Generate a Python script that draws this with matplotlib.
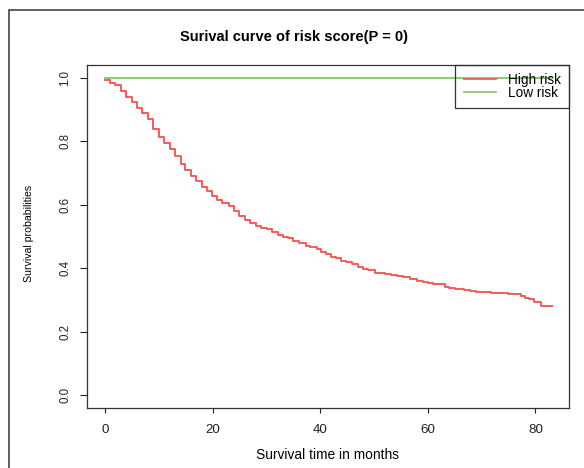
import matplotlib
matplotlib.use("Agg")
import matplotlib.pyplot as plt
from matplotlib.patches import Rectangle
from matplotlib.lines import Line2D

plt.rcParams['font.family'] = ['Liberation Sans', 'DejaVu Sans']

# step points of the high-risk Kaplan-Meier curve (months, survival)
high_time = [0, 0.8, 1.9, 2.9, 3.9, 4.9, 5.9, 6.9, 7.9, 8.9, 10.0, 10.9, 12.0, 13.0,
             14.0, 14.9, 15.9, 16.9, 17.9, 18.9, 19.9, 20.8, 21.8, 23.0, 23.9, 24.9,
             25.9, 27.0, 28.0, 29.0, 30.0, 31.0, 32.1, 33.0, 34.0, 35.0, 36.1, 37.3,
             38.1, 39.3, 40.2, 41.1, 42.0, 43.0, 43.9, 44.8, 45.8, 47.0, 47.9, 48.9,
             50.1, 52.0, 53.2, 54.3, 55.4, 56.6, 57.9, 59.1, 60.0, 61.0, 63.1, 64.0,
             65.0, 66.8, 67.8, 69.0, 71.8, 72.7, 74.9, 76.8, 77.4, 78.0, 78.9, 79.8,
             81.0, 83.0]
high_surv = [0.992, 0.984, 0.977, 0.958, 0.940, 0.923, 0.905, 0.889, 0.871, 0.837,
             0.812, 0.793, 0.774, 0.752, 0.729, 0.708, 0.692, 0.674, 0.656, 0.642,
             0.629, 0.616, 0.605, 0.595, 0.579, 0.563, 0.553, 0.542, 0.534, 0.526,
             0.523, 0.514, 0.505, 0.500, 0.495, 0.487, 0.479, 0.471, 0.466, 0.461,
             0.451, 0.444, 0.437, 0.432, 0.424, 0.419, 0.413, 0.405, 0.397, 0.393,
             0.386, 0.381, 0.379, 0.376, 0.372, 0.367, 0.361, 0.357, 0.353, 0.350,
             0.342, 0.339, 0.334, 0.332, 0.329, 0.324, 0.323, 0.321, 0.319, 0.318,
             0.313, 0.307, 0.302, 0.293, 0.281, 0.281]
low_time = [0, 83.0]
low_surv = [1.0, 1.0]

x_ticks = [0, 20, 40, 60, 80]
y_ticks = [0.0, 0.2, 0.4, 0.6, 0.8, 1.0]
labels = ["High risk", "Low risk"]
red = '#F45C5C'
green = '#8CC870'

W, H = 584, 468
fig = plt.figure(figsize=(W / 100, H / 100), dpi=100)
ax = fig.add_axes([87 / W, 1 - 408 / H, (569 - 87) / W, (408 - 65) / H])

ax.plot(high_time, high_surv, drawstyle='steps-post', color=red, lw=1.4)
ax.plot(low_time, low_surv, drawstyle='steps-post', color=green, lw=1.4)

ax.set_xlim(-3.4, 86.25)
ax.set_ylim(-0.04, 1.04)
ax.set_xticks(x_ticks)
ax.set_xticklabels([str(v) for v in x_ticks], fontsize=9.6)
ax.set_yticks(y_ticks)
ax.set_yticklabels(['%.1f' % v for v in y_ticks], fontsize=8.3, rotation=90, va='center')
ax.tick_params(axis='x', length=3.8, width=0.8, pad=7.5, colors='#222222')
ax.tick_params(axis='y', length=5.2, width=0.8, pad=6, colors='#222222')
for s in ax.spines.values():
    s.set_linewidth(0.9)
    s.set_color('#333333')

handles = [Line2D([], [], color=red, lw=1.3), Line2D([], [], color=green, lw=1.3)]
leg = ax.legend(handles, labels, loc='upper right', borderaxespad=0, fontsize=9.8,
                frameon=True, fancybox=False, facecolor='none', edgecolor='#333333',
                handlelength=2.4, handletextpad=0.85, labelspacing=-0.1,
                borderpad=0.6)
leg.get_frame().set_linewidth(0.9)
leg.get_frame().set_alpha(None)

fig.text(294 / W, 1 - 37 / H, "Surival curve of risk score(P = 0)", fontsize=10.5,
         fontweight='bold', ha='center', va='center')
fig.text(328 / W, 1 - 455 / H, "Survival time in months", fontsize=9.9,
         ha='center', va='center')
fig.text(29.5 / W, 1 - 233 / H, "Survival probabilities", fontsize=7.6,
         rotation=90, ha='center', va='center')

# outer frame of the original figure (runs off the right and bottom edges)
fig.patches.append(Rectangle((8.5 / W, -0.2), 1.2, 1.2 - 10 / H,
                             transform=fig.transFigure, fill=False,
                             edgecolor='#444444', lw=1.2))

fig.savefig("out.png", dpi=100)
